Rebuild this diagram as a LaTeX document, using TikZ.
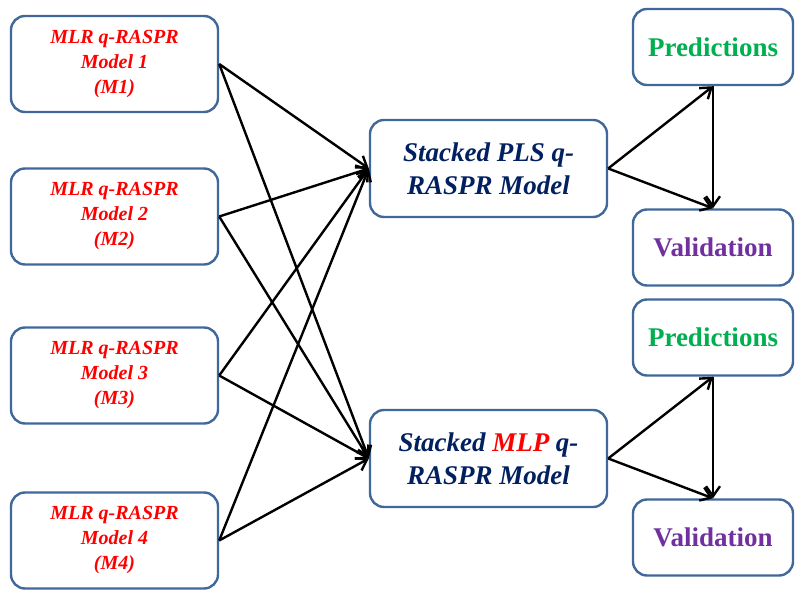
\documentclass[tikz,border=0pt]{standalone}
\usepackage{fontspec}
\setmainfont{Liberation Serif}
\usetikzlibrary{arrows.meta}
\definecolor{boxblue}{HTML}{41689A}
\definecolor{navy}{HTML}{002060}
\definecolor{pgreen}{HTML}{00B050}
\definecolor{vpurple}{HTML}{7030A0}
\begin{document}
\begin{tikzpicture}[x=1pt,y=-1pt,
  box/.style={draw=boxblue,line width=2.4pt,rounded corners=14pt,fill=white,inner sep=0pt,align=center},
  mlrbox/.style={box,minimum width=207pt,minimum height=96pt,text=red,font=\bfseries\itshape\fontsize{20}{25}\selectfont},
  stackbox/.style={box,minimum width=237pt,minimum height=97pt,text=navy,font=\bfseries\itshape\fontsize{27}{33}\selectfont},
  outbox/.style={box,minimum width=160pt,minimum height=76pt,font=\bfseries\fontsize{27}{30}\selectfont},
  arr/.style={draw=black,line width=2.4pt,-{Straight Barb[length=10pt,width=14pt,line width=2.4pt]}}]
\useasboundingbox (0,0) rectangle (795,601);
\node[mlrbox] (m1) at (114.5,64) {MLR q-RASPR\\Model 1\\(M1)};
\node[mlrbox] (m2) at (114.5,216.5) {MLR q-RASPR\\Model 2\\(M2)};
\node[mlrbox] (m3) at (114.5,375.5) {MLR q-RASPR\\Model 3\\(M3)};
\node[mlrbox] (m4) at (114.5,540.5) {MLR q-RASPR\\Model 4\\(M4)};
\node[stackbox] (pls) at (488.5,168.5) {Stacked PLS q-\\RASPR Model};
\node[stackbox] (mlp) at (488.5,458.5) {Stacked \textcolor{red}{MLP} q-\\RASPR Model};
\node[outbox,text=pgreen] (p1) at (713,47) {Predictions};
\node[outbox,text=vpurple] (v1) at (713,247.5) {Validation};
\node[outbox,text=pgreen] (p2) at (713,337.5) {Predictions};
\node[outbox,text=vpurple] (v2) at (713,537.5) {Validation};
\foreach \m in {m1,m2,m3,m4}{
  \draw[arr] (\m.east) -- (pls.west);
  \draw[arr] (\m.east) -- (mlp.west);
}
\draw[arr] (pls.east) -- (p1.south);
\draw[arr] (pls.east) -- (v1.north);
\draw[arr] (p1.south) -- (v1.north);
\draw[arr] (mlp.east) -- (p2.south);
\draw[arr] (mlp.east) -- (v2.north);
\draw[arr] (p2.south) -- (v2.north);
\end{tikzpicture}
\end{document}
